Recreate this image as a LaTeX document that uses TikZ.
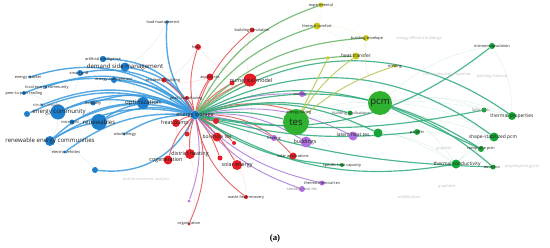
\documentclass[tikz,border=0pt]{standalone}
\usepackage{fontspec}
\setmainfont{Open Sans}
\newfontfamily\capfont{Liberation Serif}
\usetikzlibrary{backgrounds}

\definecolor{vosblue}{RGB}{28,126,205}
\definecolor{vosblueE}{RGB}{58,154,222}
\definecolor{vosred}{RGB}{228,30,38}
\definecolor{vosredE}{RGB}{226,80,80}
\definecolor{vosgreen}{RGB}{22,165,55}
\definecolor{vosgreenE}{RGB}{45,170,120}
\definecolor{vosyellow}{RGB}{205,200,25}
\definecolor{vosyellowE}{RGB}{180,195,70}
\definecolor{vospurple}{RGB}{175,110,225}
\definecolor{vospurpleE}{RGB}{165,120,215}

\begin{document}
\begin{tikzpicture}[
    x=0.03cm, y=-0.03cm,
    kw/.style={circle, inner sep=0pt, minimum size=#1*0.6mm},
    bdot/.style={kw=#1, fill=vosblue},
    rdot/.style={kw=#1, fill=vosred},
    gdot/.style={kw=#1, fill=vosgreen},
    ydot/.style={kw=#1, fill=vosyellow},
    pdot/.style={kw=#1, fill=vospurple},
    lbl/.style={inner sep=0pt, text=black!88, font=\fontsize{3.3}{4}\selectfont},
    lblS/.style={lbl, font=\fontsize{4.2}{5}\selectfont},
    lblM/.style={lbl, font=\fontsize{4.6}{5}\selectfont},
    lblL/.style={lbl, font=\fontsize{5.2}{6}\selectfont},
    lblH/.style={lbl, font=\fontsize{8.2}{9}\selectfont},
    faded/.style={lbl, text=black!25},
    bedge/.style={draw=vosblueE, line width=1.2pt, opacity=0.85},
    redge/.style={draw=vosredE, line width=0.8pt, opacity=0.85},
    gedge/.style={draw=vosgreenE, line width=1pt, opacity=0.85},
    yedge/.style={draw=vosyellowE, line width=0.8pt, opacity=0.85},
    pedge/.style={draw=vospurpleE, line width=0.8pt, opacity=0.85},
    faint/.style={line width=0.3pt, opacity=0.2}
]
\useasboundingbox (0,0) rectangle (550,248);

% Energy systems cluster (blue)
\node[bdot=1.8] (lm) at (167,22) {};
\node[bdot=3.2] (ai) at (103,59) {};
\node[bdot=4.5] (dsm) at (125,67) {};
\node[bdot=3] (sg) at (80,73) {};
\node[bdot=1.6] (emk) at (30,77) {};
\node[bdot=3] (emg) at (114,80) {};
\node[bdot=1.6] (lec) at (46,87) {};
\node[bdot=2] (ptp) at (24,93) {};
\node[bdot=2.5] (flx) at (93,103) {};
\node[bdot=6] (opt) at (143,103) {};
\node[bdot=1.6] (ev1) at (42,105) {};
\node[bdot=7.5] (ec) at (58,112) {};
\node[bdot=3] (bx) at (27,114) {};
\node[bdot=2.5] (mg) at (72,122) {};
\node[bdot=8] (ren) at (99,122) {};
\node[bdot=1.6] (we) at (124,134) {};
\node[bdot=5] (rec) at (50,141) {};
\node[bdot=1.6] (ev2) at (65,152) {};
\node[bdot=3] (by) at (95,170) {};
\node[bdot=4.5] (es) at (195,115) {};

% Heating and buildings cluster (red)
\node[rdot=2.5] (bs) at (252,30) {};
\node[rdot=3] (hvac) at (198,47) {};
\node[rdot=2.5] (rb) at (164,80) {};
\node[rdot=3.5] (aq) at (210,77) {};
\node[rdot=6.5] (nm) at (250,80) {};
\node[rdot=2.5] (rx1) at (232,83) {};
\node[rdot=2] (pls) at (187,98) {};
\node[rdot=4] (hp) at (176,123) {};
\node[rdot=3] (rx2) at (216,121) {};
\node[rdot=2.5] (rx3) at (187,134) {};
\node[rdot=4.5] (bh) at (217,137) {};
\node[rdot=2] (rx4) at (234,143) {};
\node[rdot=5] (dh) at (190,154) {};
\node[rdot=2.5] (rx5) at (220,158) {};
\node[rdot=4.5] (cg) at (168,160) {};
\node[rdot=5] (se) at (237,165) {};
\node[rdot=3] (esv) at (301,113) {};
\node[rdot=3.5] (sa) at (293,156) {};
\node[rdot=2] (whr) at (246,197) {};
\node[rdot=1.5] (org) at (189,224) {};

% Purple cluster
\node[pdot=3] (col) at (302,94) {};
\node[pdot=3] (hea) at (274,138) {};
\node[pdot=5.5] (bld) at (306,142) {};
\node[pdot=4.5] (px1) at (353,136) {};
\node[pdot=2.5] (tct) at (322,183) {};
\node[pdot=3] (sht) at (302,189) {};
\node[pdot=1.5] (px2) at (189,201) {};

% Materials cluster (green)
\node[gdot=13, fill=vosgreen!85!lime] (tes) at (296,122) {};
\node[gdot=12, fill=vosgreen!85!lime] (pcm) at (380,103) {};
\node[gdot=2.5] (bap) at (350,113) {};
\node[gdot=4.5] (lht) at (378,133) {};
\node[gdot=3] (mic) at (492,46) {};
\node[gdot=2.5] (fat) at (484,110) {};
\node[gdot=4] (tp) at (512,116) {};
\node[gdot=3] (par) at (417,132) {};
\node[gdot=4.5] (ssp) at (494,137) {};
\node[gdot=3] (cpc) at (481,149) {};
\node[gdot=4.5] (tcd) at (456,164) {};
\node[gdot=2.5] (eut) at (493,167) {};
\node[gdot=2] (shc) at (342,165) {};

% Yellow cluster
\node[ydot=2.5] (exp) at (321,5) {};
\node[ydot=3.5] (tcf) at (317,26) {};
\node[ydot=3] (ben) at (366,38) {};
\node[ydot=3.5] (htr) at (356,56) {};
\node[ydot=1.8] (mlt) at (395,66) {};
\node[ydot=1.8] (yx) at (328,58) {};

% Links
\begin{scope}[on background layer]
    % faint background links
    \foreach \a/\b in {emk/lec, lec/ptp, ec/rec, ai/dsm, sg/emg, ec/ren, dsm/opt, ptp/ec, sg/ec, ai/opt, emg/ren, lm/dsm, rec/by}
        \draw[faint, vosblueE] (\a) to[bend left=15] (\b);
    \foreach \a/\b in {nm/hvac, nm/bs, dh/cg, dh/hp, se/sa, se/whr, bh/aq, nm/tes, aq/rb, hp/cg, bh/se, nm/se, hvac/rb, dh/org, nm/sa, bs/aq}
        \draw[faint, vosredE] (\a) to[bend left=15] (\b);
    \foreach \a/\b in {pcm/tp, pcm/ssp, pcm/tcd, tes/lht, pcm/mic, pcm/fat, tes/shc, tcd/ssp, tcd/cpc, tes/pcm, pcm/par, lht/tcd, pcm/ben, tes/tp, tes/ssp, pcm/eut, par/cpc, mic/tp, tes/tcd}
        \draw[faint, vosgreenE] (\a) to[bend left=15] (\b);
    \foreach \a/\b in {exp/tcf, tcf/ben, ben/htr, htr/mlt, tcf/htr}
        \draw[faint, vosyellowE] (\a) to[bend left=15] (\b);

    % energy storage links
    \foreach \t/\b in {ai/30, dsm/25, sg/30, emk/30, emg/20, lec/30, ptp/28, flx/25, opt/18, ec/25, bx/25, mg/22, ren/20, we/15, rec/22, ev2/20, ev1/25}
        \draw[bedge] (es) to[bend right=\b] (\t);
    \draw[bedge] (es) to[bend left=20] (lm);
    \draw[bedge] (es) to[bend left=35] (by);
    \draw[bedge] (ec) to[bend left=15] (opt);
    \draw[bedge] (rec) to[bend left=10] (ren);
    \draw[bedge] (rec) to[bend left=20] (opt);
    \draw[bedge] (ren) to[bend left=10] (opt);

    \foreach \t/\b in {bs/15, hvac/15, aq/10, nm/10, rx1/10, esv/18, sa/25, org/20, se/10, bh/10, rx4/10, rx5/10}
        \draw[redge] (es) to[bend left=\b] (\t);
    \foreach \t/\b in {whr/20, rb/10, pls/10, hp/10, rx2/10, rx3/10, dh/10, cg/15}
        \draw[redge] (es) to[bend right=\b] (\t);

    \foreach \t/\b in {bld/18, hea/12, px1/18, col/12, px2/15}
        \draw[pedge] (es) to[bend left=\b] (\t);
    \foreach \t/\b in {tct/15, sht/15}
        \draw[pedge] (es) to[bend right=\b] (\t);

    \foreach \t/\b in {tes/10, pcm/18, tp/35, ssp/32, cpc/25, lht/20, bap/14}
        \draw[gedge] (es) to[bend left=\b] (\t);
    \foreach \t/\b in {tcd/20, shc/15, par/10, fat/10, eut/8, mic/25}
        \draw[gedge] (es) to[bend right=\b] (\t);
    \draw[gedge] (pcm) -- (cpc);
    \draw[gedge] (pcm) to[bend left=10] (eut);

    \foreach \t/\b in {exp/22, tcf/18, ben/20, htr/18}
        \draw[gedge, draw=vosgreenE!60!vosyellowE] (es) to[bend left=\b] (\t);
    \draw[yedge] (yx) -- (tes);
    \draw[yedge] (htr) to[bend right=10] (tes);
    \draw[yedge] (mlt) to[bend right=10] (tes);
\end{scope}

% Labels
\node[lbl] (t-lm) at (163,22) {load management};
\node[lbl] (t-ai) at (103,59) {artificial intelligence};
\node[lblL] (t-dsm) at (125,67) {demand side management};
\node[lbl] (t-sg) at (79,73) {smart grid};
\node[lbl] (t-emk) at (28,77) {energy market};
\node[lbl] (t-emg) at (114,80) {energy management};
\node[lbl] (t-lec) at (47,87) {local energy community};
\node[lbl] (t-ptp) at (24,93) {peer-to-peer trading};
\node[lbl] (t-flx) at (93,103) {flexibility};
\node[lblL] (t-opt) at (143,103) {optimization};
\node[lbl, text=black!60] (t-ev1) at (47,105) {electric vehicles};
\node[lblL] (t-ec) at (59,112) {energy community};
\node[lbl] (t-mg) at (70,122) {microgrid};
\node[lblL] (t-ren) at (99,122) {renewables};
\node[lbl] (t-we) at (125,134) {wind energy};
\node[lblL] (t-rec) at (50,141) {renewable energy communities};
\node[lbl] (t-ev2) at (66,152) {electric vehicles};
\node[lblM] (t-es) at (195,115) {energy storage};

\node[lbl] (t-bs) at (252,30) {building simulation};
\node[lbl] (t-hvac) at (196,47) {hvac};
\node[lbl] (t-rb) at (163,80) {residential building};
\node[lbl] (t-aq) at (210,77) {aquifer tes};
\node[lblM] (t-nm) at (251,80) {numerical model};
\node[lbl] (t-pls) at (186,98) {peak load shaving};
\node[lblM] (t-hp) at (175,123) {heat pump};
\node[lblS] (t-bh) at (217,137) {borehole tes};
\node[lblM] (t-dh) at (190,154) {district heating};
\node[lblM] (t-cg) at (166,160) {cogeneration};
\node[lblM] (t-se) at (237,165) {solar energy};
\node[lbl] (t-esv) at (299,113) {energy saving};
\node[lbl] (t-sa) at (293,156) {solar applications};
\node[lbl] (t-whr) at (246,197) {waste heat recovery};
\node[lbl] (t-org) at (189,224) {organization};

\node[lbl] (t-col) at (300,94) {cooling};
\node[lbl] (t-hea) at (274,138) {heating};
\node[lblM] (t-bld) at (305,142) {buildings};
\node[lbl] (t-tct) at (322,183) {thermochemical tes};
\node[lbl, text=black!50] (t-sht) at (302,189) {sensible heat tes};

\node[lblH] (t-tes) at (296,122) {tes};
\node[lblH] (t-pcm) at (380,103) {pcm};
\node[lbl, text=black!70] (t-bap) at (351,113) {building applications};
\node[lblS] (t-lht) at (353,135) {latent heat tes};
\node[lbl] (t-mic) at (492,46) {microencapsulation};
\node[lbl, text=black!50] (t-fat) at (481,110) {fatty acids};
\node[lblS] (t-tp) at (512,116) {thermal properties};
\node[lbl] (t-par) at (417,132) {paraffin};
\node[lblS] (t-ssp) at (493,137) {shape-stabilized pcm};
\node[lbl] (t-cpc) at (481,149) {composite pcm};
\node[lblS] (t-tcd) at (457,164) {thermal conductivity};
\node[lbl] (t-eut) at (492,167) {eutectics};
\node[lbl] (t-shc) at (342,165) {specific heat capacity};

\node[lbl] (t-exp) at (321,5) {experimental};
\node[lbl] (t-tcf) at (317,26) {thermal comfort};
\node[lbl] (t-ben) at (367,38) {building envelope};
\node[lblS] (t-htr) at (356,56) {heat transfer};
\node[lbl] (t-mlt) at (395,66) {melting};

% faded labels
\node[faded] (f-eeb) at (419,38) {energy efficient buildings};
\node[faded] (f-tpp) at (447,74) {thermophysical properties};
\node[faded] (f-bm) at (492,76) {building material};
\node[faded] (f-peg) at (522,166) {polyethylene glycol};
\node[faded] (f-gph) at (447,186) {graphene};
\node[faded] (f-gpt) at (444,148) {graphite};
\node[faded] (f-sol) at (409,197) {solidification};
\node[faded] (f-tea) at (146,179) {techno-economic analysis};

\node[font=\capfont\bfseries\fontsize{7.5}{8}\selectfont, inner sep=0pt] (cap) at (275,238) {(a)};
\end{tikzpicture}
\end{document}
